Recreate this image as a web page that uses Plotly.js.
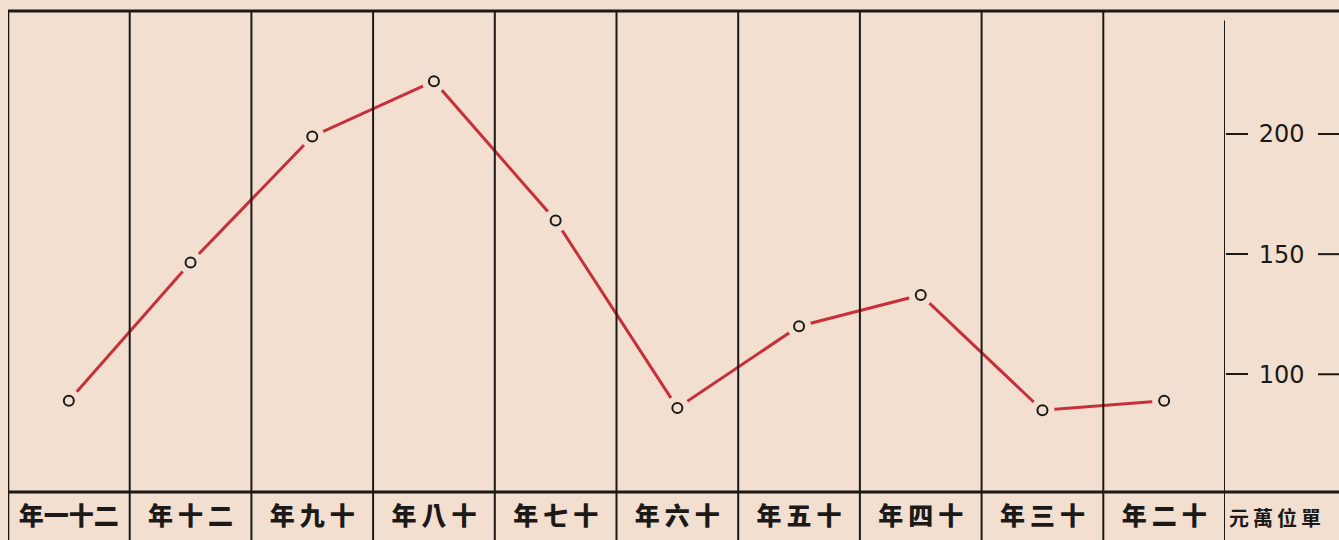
<!DOCTYPE html>
<html>
<head>
<meta charset="utf-8">
<script src="https://cdn.plot.ly/plotly-3.0.1.min.js"></script>
<style>
  html, body { margin: 0; padding: 0; background: #f2dfcf; }
  #chart { width: 1339px; height: 540px; }
</style>
</head>
<body>
<div id="chart"></div>
<script>
// Years, written right to left as on the sheet
const years = ["年一十二", "年十二", "年九十", "年八十", "年七十", "年六十", "年五十", "年四十", "年三十", "年二十"];
// Amounts in units of 10,000 yuan
const amounts = [89, 146.5, 199, 222, 164, 86, 120, 133, 85, 89];
// Right-hand scale
const scaleTicks = [100, 150, 200];
const unitLabel = "元萬位單";

const paper = "#f2dfcf";
const ink = "#1c1a18";
const red = "#c5303a";

// Spread three-character labels a little wider
const tickText = years.map(s => s.length <= 3 ? s.split("").join("\u2009") : s);

const idx = years.map((_, i) => i);

const traces = [
  { x: idx, y: amounts, type: "scatter", mode: "lines",
    line: { color: red, width: 3 }, hoverinfo: "skip" },
  // paper-coloured halo so the pen line breaks around each point
  { x: idx, y: amounts, type: "scatter", mode: "markers",
    marker: { size: 24, color: paper, line: { width: 0 } }, hoverinfo: "skip" },
  { x: idx, y: amounts, type: "scatter", mode: "markers",
    marker: { size: 10, color: paper, line: { color: ink, width: 2 } } }
];

const shapes = [];
// column rules, running down through the label row
for (let i = 0; i <= years.length; i++) {
  shapes.push({ type: "line", xref: "x", yref: "paper",
    x0: i - 0.5, x1: i - 0.5, y0: -0.12, y1: i === years.length ? 0.98 : 1,
    line: { color: ink, width: i === 0 ? 2.6 : 2 } });
}
// top rule and the rule above the labels, across the whole sheet
shapes.push({ type: "line", xref: "paper", yref: "paper", x0: 0, x1: 1.1, y0: 1, y1: 1,
  line: { color: ink, width: 3 } });
shapes.push({ type: "line", xref: "paper", yref: "paper", x0: 0, x1: 1.1, y0: 0, y1: 0,
  line: { color: ink, width: 3 } });
// outer dash after each scale number
scaleTicks.forEach(v => {
  shapes.push({ type: "line", xref: "paper", yref: "y", x0: 1.0764, x1: 1.1, y0: v, y1: v,
    line: { color: ink, width: 2 } });
});

const layout = {
  width: 1339, height: 540,
  margin: { l: 8, r: 114, t: 11, b: 48, pad: 0 },
  paper_bgcolor: paper, plot_bgcolor: paper,
  showlegend: false,
  xaxis: {
    type: "linear", range: [-0.5, years.length - 0.5],
    tickmode: "array", tickvals: idx, ticktext: tickText,
    ticks: "", showgrid: false, zeroline: false, showline: false,
    tickfont: { family: "Noto Sans CJK TC", size: 25, color: ink, weight: 900 },
    ticklabelstandoff: 7, fixedrange: true
  },
  yaxis: {
    side: "right", range: [51, 251.2],
    tickmode: "array", tickvals: scaleTicks, ticktext: scaleTicks.map(String),
    ticks: "outside", ticklen: 22, tickwidth: 2, tickcolor: ink,
    showgrid: false, zeroline: false, showline: false,
    tickfont: { family: "DejaVu Sans", size: 24, color: ink },
    ticklabelstandoff: 6, fixedrange: true
  },
  shapes: shapes,
  annotations: [{
    xref: "paper", yref: "paper", x: 1.041, y: -0.052, xanchor: "center", yanchor: "middle",
    text: unitLabel.split("").join("\u2009"), showarrow: false,
    font: { family: "Noto Sans CJK TC", size: 20, color: ink, weight: 700 }
  }]
};

Plotly.newPlot("chart", traces, layout, { staticPlot: true, displayModeBar: false });
</script>
</body>
</html>
